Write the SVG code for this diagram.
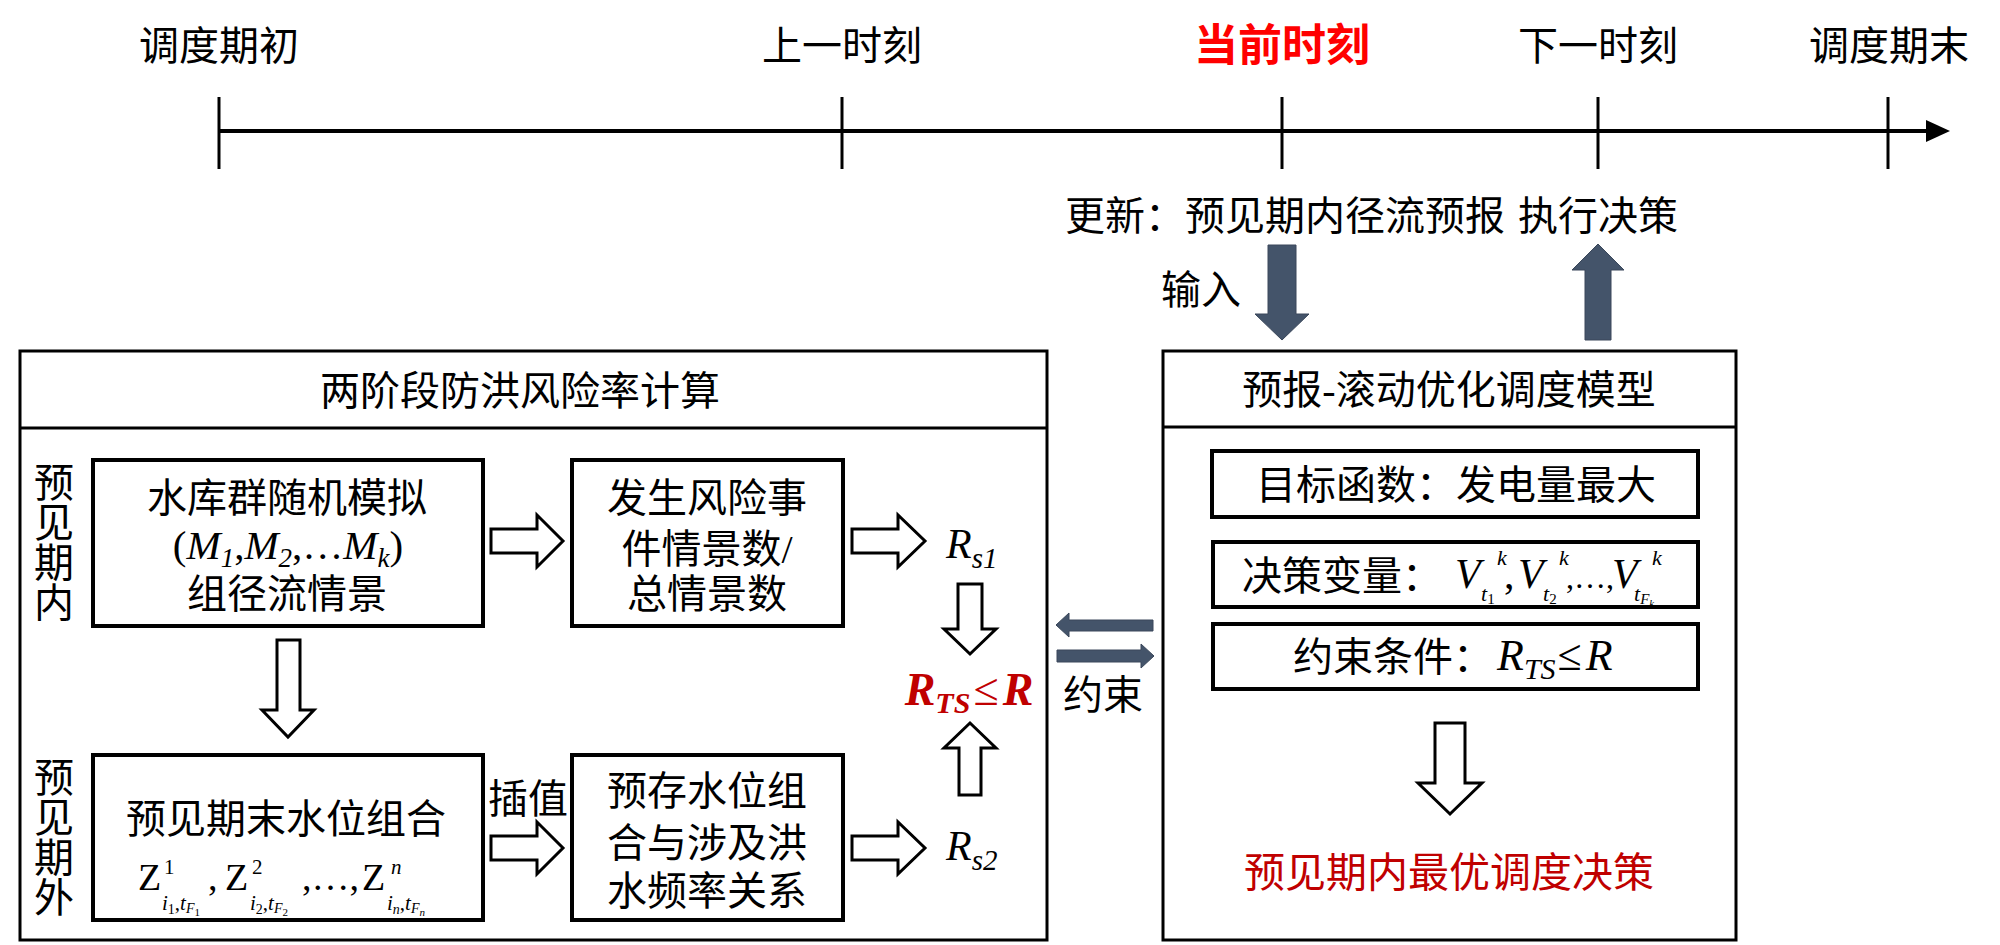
<svg xmlns="http://www.w3.org/2000/svg" width="2000" height="945" viewBox="0 0 2000 945">
<style>
.t{font-family:"Liberation Serif","Noto Sans CJK SC",serif;font-size:40px;fill:#000}
.c{text-anchor:middle}
.m{font-family:"Liberation Serif",serif;font-style:italic;fill:#000}
.r{font-family:"Liberation Serif",serif;fill:#000}
.box{fill:#fff;stroke:#000;stroke-width:3}
.ibox{fill:#fff;stroke:#000;stroke-width:4}
.hollow{fill:#fff;stroke:#000;stroke-width:3;stroke-linejoin:miter}
.dark{fill:#44546A;stroke:#3A475A;stroke-width:1}
</style>
<rect width="2000" height="945" fill="#fff"/>

<g id="timeline">
<line x1="219" y1="131" x2="1930" y2="131" stroke="#000" stroke-width="4"/>
<polygon points="1926,120 1950,131 1926,142" fill="#000"/>
<g stroke="#000" stroke-width="3">
<line x1="219" y1="97" x2="219" y2="169"/>
<line x1="842" y1="97" x2="842" y2="169"/>
<line x1="1282" y1="97" x2="1282" y2="169"/>
<line x1="1598" y1="97" x2="1598" y2="169"/>
<line x1="1888" y1="97" x2="1888" y2="169"/>
</g>
<text class="t c" x="219" y="60">调度期初</text>
<text class="t c" x="842" y="60">上一时刻</text>
<text class="c" x="1282" y="61" font-family="'Noto Sans CJK SC',sans-serif" font-weight="bold" font-size="44" fill="#FF0000">当前时刻</text>
<text class="t c" x="1598" y="60">下一时刻</text>
<text class="t c" x="1889" y="60">调度期末</text>
</g>

<g id="update-label">
<text class="t" x="1065" y="230">更新：预见期内径流预报</text>
<text class="t c" x="1598" y="230">执行决策</text>
<text class="t" x="1161" y="304">输入</text>
</g>

<g id="risk-panel">
<rect class="box" x="20" y="351" width="1027" height="589"/>
<line x1="20" y1="428" x2="1047" y2="428" stroke="#000" stroke-width="3"/>
<text class="t c" x="520" y="405" font-size="41">两阶段防洪风险率计算</text>
<g class="t c" font-size="37">
<text x="54" y="497">预</text><text x="54" y="537">见</text><text x="54" y="577">期</text><text x="54" y="617">内</text>
<text x="54" y="792">预</text><text x="54" y="832">见</text><text x="54" y="872">期</text><text x="54" y="912">外</text>
</g>
<text class="t c" x="528" y="813">插值</text>
</g>

<g id="box-simulate">
<rect class="ibox" x="93" y="460" width="390" height="166"/>
<text class="t c" x="287" y="512" font-size="41">水库群随机模拟</text>
<text class="m c" x="288" y="559" font-size="41"><tspan font-style="normal">(</tspan>M<tspan font-size="27" dy="8">1</tspan><tspan dy="-8" font-style="normal">,</tspan>M<tspan font-size="27" dy="8">2</tspan><tspan dy="-8" font-style="normal">,…</tspan>M<tspan font-size="27" dy="8">k</tspan><tspan dy="-8" font-style="normal">)</tspan></text>
<text class="t c" x="287" y="608" font-size="41">组径流情景</text>
</g>

<g id="box-ratio">
<rect class="ibox" x="572" y="460" width="271" height="166"/>
<text class="t c" x="707" y="512" font-size="41">发生风险事</text>
<text class="t c" x="707" y="563" font-size="41">件情景数/</text>
<text class="t c" x="707" y="608" font-size="41">总情景数</text>
</g>

<g id="box-level">
<rect class="ibox" x="93" y="755" width="390" height="165"/>
<text class="t c" x="286" y="833" font-size="41">预见期末水位组合</text>
<text class="r" x="138" y="890" font-size="38">Z</text>
<text class="r" x="164" y="874" font-size="21">1</text>
<text class="m" x="162" y="910" font-size="21">i<tspan font-size="14" dy="4" font-style="normal">1</tspan><tspan dy="-4" font-style="normal">,</tspan>t<tspan font-size="14" dy="3">F</tspan><tspan font-size="11" dy="3" font-style="normal">1</tspan></text>
<text class="r" x="208" y="890" font-size="38">,</text>
<text class="r" x="225" y="890" font-size="38">Z</text>
<text class="r" x="252" y="874" font-size="21">2</text>
<text class="m" x="250" y="910" font-size="21">i<tspan font-size="14" dy="4" font-style="normal">2</tspan><tspan dy="-4" font-style="normal">,</tspan>t<tspan font-size="14" dy="3">F</tspan><tspan font-size="11" dy="3" font-style="normal">2</tspan></text>
<text class="r" x="302" y="890" font-size="38">,…,</text>
<text class="r" x="362" y="890" font-size="38">Z</text>
<text class="m" x="391" y="874" font-size="21">n</text>
<text class="m" x="387" y="910" font-size="21">i<tspan font-size="14" dy="4">n</tspan><tspan dy="-4" font-style="normal">,</tspan>t<tspan font-size="14" dy="3">F</tspan><tspan font-size="11" dy="3">n</tspan></text>
</g>

<g id="box-freq">
<rect class="ibox" x="572" y="755" width="271" height="165"/>
<text class="t c" x="707" y="805" font-size="41">预存水位组</text>
<text class="t c" x="707" y="857" font-size="41">合与涉及洪</text>
<text class="t c" x="707" y="905" font-size="41">水频率关系</text>
</g>

<g id="rs1"><text class="m" x="946" y="558" font-size="42">R<tspan font-size="29" dy="10">s1</tspan></text></g>
<g id="rs2"><text class="m" x="946" y="860" font-size="42">R<tspan font-size="29" dy="10">s2</tspan></text></g>
<g id="rts"><text class="c" x="969" y="705" font-family="'Liberation Serif',serif" font-weight="bold" font-style="italic" font-size="46" fill="#C00000">R<tspan font-size="30" dy="8">TS</tspan><tspan dy="-8" dx="3" font-weight="normal" font-style="normal">≤</tspan><tspan dx="4">R</tspan></text></g>

<g id="model-panel">
<rect class="box" x="1163" y="351" width="573" height="589"/>
<line x1="1163" y1="427" x2="1736" y2="427" stroke="#000" stroke-width="3"/>
<text class="t c" x="1449" y="404" font-size="41">预报-滚动优化调度模型</text>
</g>

<g id="objective">
<rect class="ibox" x="1212" y="451" width="486" height="66"/>
<text class="t c" x="1456" y="499" font-size="41">目标函数：发电量最大</text>
</g>

<g id="decision">
<rect class="ibox" x="1213" y="542" width="485" height="65"/>
<text class="t" x="1242" y="590" font-size="41">决策变量：</text>
<text class="m" x="1455" y="588" font-size="42">V</text>
<text class="m" x="1497" y="565" font-size="22">k</text>
<text class="m" x="1481" y="601" font-size="22">t<tspan font-size="15" dy="3" font-style="normal">1</tspan></text>
<text class="r" x="1504" y="588" font-size="42">,</text>
<text class="m" x="1518" y="588" font-size="42">V</text>
<text class="m" x="1559" y="565" font-size="22">k</text>
<text class="m" x="1543" y="601" font-size="22">t<tspan font-size="15" dy="3" font-style="normal">2</tspan></text>
<text class="r" x="1566" y="588" font-size="32">,…,</text>
<text class="m" x="1612" y="588" font-size="42">V</text>
<text class="m" x="1652" y="565" font-size="22">k</text>
<text class="m" x="1634" y="601" font-size="22">t<tspan font-size="15" dy="3">F</tspan><tspan font-size="11" dy="3">k</tspan></text>
</g>

<g id="constraint">
<rect class="ibox" x="1213" y="624" width="485" height="65"/>
<text class="t" x="1293" y="671" font-size="41">约束条件：</text>
<text class="m" x="1497" y="670" font-size="44">R<tspan font-size="30" dy="9">TS</tspan><tspan dy="-9" dx="2" font-style="normal">≤</tspan><tspan dx="4">R</tspan></text>
</g>

<g id="optimal">
<text class="c" x="1449" y="887" font-family="'Liberation Serif','Noto Sans CJK SC',serif" font-size="41" fill="#C00000">预见期内最优调度决策</text>
</g>

<g id="connectors">
<polygon class="hollow" points="491,529 537,529 537,515 563,541 537,567 537,553 491,553"/>
<polygon class="hollow" points="852,529 898,529 898,515 925,541 898,567 898,553 852,553"/>
<polygon class="hollow" points="491,836 537,836 537,822 563,848 537,874 537,860 491,860"/>
<polygon class="hollow" points="852,836 898,836 898,822 925,848 898,874 898,860 852,860"/>
<polygon class="hollow" points="277,640 300,640 300,710 314,710 288,737 262,710 277,710"/>
<polygon class="hollow" points="958,584 982,584 982,629 996,629 970,654 944,629 958,629"/>
<polygon class="hollow" points="970,723 996,748 981,748 981,795 959,795 959,748 944,748"/>
<polygon class="hollow" points="1435,723 1465,723 1465,783 1482,783 1450,814 1418,783 1435,783"/>
<polygon class="dark" points="1268,245 1296,245 1296,314 1309,314 1282,340 1255,314 1268,314"/>
<polygon class="dark" points="1598,244 1624,270 1611,270 1611,340 1585,340 1585,270 1572,270"/>
<polygon class="dark" points="1056,625 1069,613 1069,620 1153,620 1153,631 1069,631 1069,637"/>
<polygon class="dark" points="1057,650 1141,650 1141,644 1154,656 1141,668 1141,662 1057,662"/>
<text class="t" x="1063" y="709" font-size="38">约束</text>
</g>
</svg>
